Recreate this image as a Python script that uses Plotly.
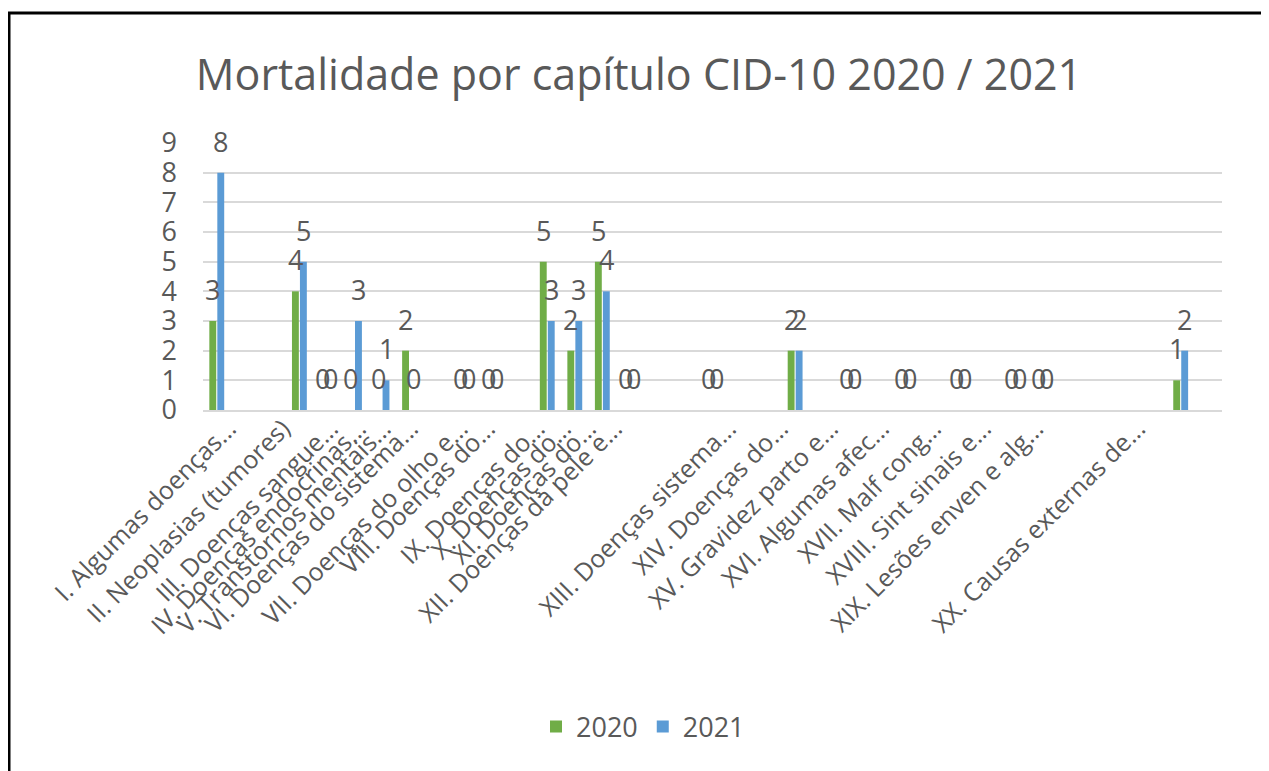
import plotly.graph_objects as go

# ---- data ----
categories = [
    "I. Algumas doenças...", "II. Neoplasias (tumores)", "III. Doenças sangue...",
    "IV. Doenças endocrinas...", "V. Transtornos mentais...", "VI. Doenças do sistema...",
    "VII. Doenças do olho e...", "VIII. Doenças do...", "IX. Doenças do...",
    "X. Doenças do...", "XI. Doenças do...", "XII. Doenças da pele e...",
    "XIII. Doenças sistema...", "XIV. Doenças do...", "XV. Gravidez parto e...",
    "XVI. Algumas afec...", "XVII. Malf cong...", "XVIII. Sint sinais e...",
    "XIX. Lesões enven e alg...", "XX. Causas externas de...",
]
deaths_2020 = [3, 4, 0, 0, 0, 2, 0, 0, 5, 2, 5, 0, 0, 2, 0, 0, 0, 0, 0, 1]
deaths_2021 = [8, 5, 0, 3, 1, 0, 0, 0, 3, 3, 4, 0, 0, 2, 0, 0, 0, 0, 0, 2]

# ---- layout (positions as drawn in the reference, irregular slots) ----
bar_slot = [0, 3, 4, 5, 6, 7, 9, 10, 12, 13, 14, 15, 18, 21, 23, 25, 27, 29, 30, 35]
label_pos = [0.59, 2.55, 4.29, 5.31, 6.21, 7.2, 9.0, 9.99, 11.8, 12.75, 13.66, 14.6,
             18.74, 20.63, 22.45, 24.3, 26.19, 28.0, 29.9, 33.6]
label_shift = -0.15

PAGE_OFF = 8                      # browser default body margin
W, H = 1269 - PAGE_OFF, 771 - PAGE_OFF
ML, MR, MT, MB = 203 - PAGE_OFF, 47, 143 - PAGE_OFF, 361
PW, PH = W - ML - MR, H - MT - MB

GREEN = "#70ad47"
BLUE = "#5b9bd5"
TXT = "#595959"
GRID = "#d9d9d9"
FONT = "Open Sans"

bw = 0.25
series = [("2020", deaths_2020, GREEN, -0.27), ("2021", deaths_2021, BLUE, 0.02)]

fig = go.Figure()
annotations = []
for name, vals, col, off in series:
    fig.add_trace(go.Bar(
        name=name, x=bar_slot, y=vals, width=bw, offset=off,
        marker=dict(color=col, line=dict(width=0)),
    ))
    for s, v in zip(bar_slot, vals):
        annotations.append(dict(
            x=s + off + bw / 2, y=v, xref="x", yref="y", text=str(v),
            showarrow=False, yanchor="bottom", yshift=11,
            font=dict(family=FONT, size=27, color=TXT),
        ))

# reference-pixel -> paper helpers
def px2paper_x(px):
    return (px - PAGE_OFF - ML) / PW

def px2paper_y(py):
    return (H - MB - (py - PAGE_OFF)) / PH

shapes = [
    dict(type="line", xref="paper", yref="paper",
         x0=px2paper_x(9), x1=px2paper_x(9), y0=px2paper_y(12), y1=px2paper_y(780),
         line=dict(color="black", width=3)),
    dict(type="line", xref="paper", yref="paper",
         x0=px2paper_x(8), x1=px2paper_x(1280), y0=px2paper_y(13), y1=px2paper_y(13),
         line=dict(color="black", width=3)),
]

fig.update_layout(
    width=W, height=H,
    margin=dict(l=ML, r=MR, t=MT, b=MB, autoexpand=False),
    paper_bgcolor="white", plot_bgcolor="white",
    font=dict(family=FONT, color=TXT),
    title=dict(text="Mortalidade por capítulo CID-10 2020 / 2021",
               x=(639 - PAGE_OFF) / W, xanchor="center",
               y=1 - (75 - PAGE_OFF) / H, yanchor="middle",
               font=dict(family=FONT, size=43, color=TXT)),
    barmode="overlay",
    showlegend=True,
    legend=dict(orientation="h", x=px2paper_x(643), xanchor="center",
                y=px2paper_y(727), yanchor="middle",
                font=dict(family=FONT, size=27, color=TXT),
                bgcolor="rgba(0,0,0,0)"),
    xaxis=dict(range=[-0.5, 36.5], tickmode="array",
               tickvals=[p + label_shift for p in label_pos],
               ticktext=categories, tickangle=-45,
               tickfont=dict(family=FONT, size=25, color=TXT),
               ticklabelstandoff=-8,
               showgrid=False, zeroline=False, showline=True,
               linecolor=GRID, linewidth=2, ticks="", fixedrange=True),
    yaxis=dict(range=[0, 9], dtick=1, showgrid=True, gridcolor=GRID, gridwidth=2,
               zeroline=False, showline=False, ticks="",
               tickfont=dict(family=FONT, size=27, color=TXT),
               ticklabelstandoff=25, fixedrange=True),
    annotations=annotations,
    shapes=shapes,
)

fig.write_html("out.html")
